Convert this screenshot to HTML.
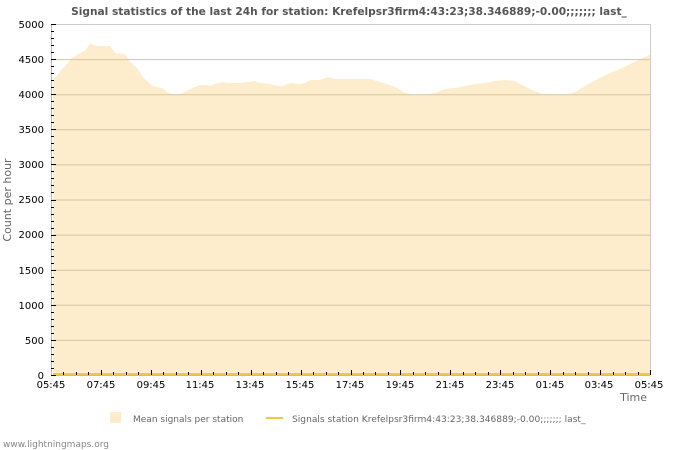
<!DOCTYPE html>
<html><head><meta charset="utf-8"><style>
html,body{margin:0;padding:0;background:#fff;}
svg{display:block;font-family:"DejaVu Sans","Liberation Sans",sans-serif;}
</style></head><body>
<svg width="700" height="450" viewBox="0 0 700 450" xmlns="http://www.w3.org/2000/svg">
<rect width="700" height="450" fill="#fff"/>
<text x="349" y="15" text-anchor="middle" font-size="10.6" font-weight="bold" fill="#555">Signal statistics of the last 24h for station: Krefelpsr3firm4:43:23;38.346889;-0.00;;;;;;; last_</text>
<g stroke="#cccccc" stroke-width="1">
<line x1="51" y1="24.5" x2="650" y2="24.5"/>
<line x1="650.5" y1="24" x2="650.5" y2="375"/>
</g>
<polygon fill="#fdedcc" points="53,375 53,80 58,74 65,66 72,58 80,53 86,50 90,43 94,45 98,46 110,46 115,53 125,54 130,62 137,68 143,77 150,84 155,87 162,88 167,92 172,94 180,94 185,92 190,89 195,87 200,85 205,85 210,86 215,84 222,82 228,83 240,83 255,81 260,83 270,84 278,86 282,86 290,83 300,84 305,83 310,80 320,80 328,77 335,79 370,79 380,82 390,85 397,88 405,93 415,95 425,95 435,93 445,89 455,88 465,86 475,84 485,83 495,81 505,80 515,81 520,84 528,88 535,91 542,94 555,94 565,95 573,93 580,89 590,83 600,78 610,73 620,69 630,64 640,59 650,55 650,375"/>
<g stroke="#d8c5a0" stroke-width="1">
<line x1="51" y1="59.6" x2="650" y2="59.6"/>
<line x1="51" y1="94.7" x2="650" y2="94.7"/>
<line x1="51" y1="129.8" x2="650" y2="129.8"/>
<line x1="51" y1="164.9" x2="650" y2="164.9"/>
<line x1="51" y1="200" x2="650" y2="200"/>
<line x1="51" y1="235.1" x2="650" y2="235.1"/>
<line x1="51" y1="270.2" x2="650" y2="270.2"/>
<line x1="51" y1="305.3" x2="650" y2="305.3"/>
<line x1="51" y1="340.4" x2="650" y2="340.4"/>
</g>
<line x1="53" y1="374" x2="650" y2="374" stroke="#f5c842" stroke-width="2"/>
<g stroke="#bbbbbb" stroke-width="1">
<line x1="51.5" y1="24" x2="51.5" y2="375"/>
<line x1="51" y1="375.5" x2="650" y2="375.5"/>
</g>
<g id="yt" stroke="#000" stroke-width="1"></g>
<g id="xt" stroke="#000" stroke-width="1"></g>
<g font-size="10" fill="#000" text-anchor="end">
<text x="44" y="28">5000</text><text x="44" y="63">4500</text><text x="44" y="98">4000</text><text x="44" y="133">3500</text><text x="44" y="168">3000</text><text x="44" y="203">2500</text><text x="44" y="238">2000</text><text x="44" y="274">1500</text><text x="44" y="309">1000</text><text x="44" y="344">500</text><text x="44" y="379">0</text>
</g>
<g font-size="10" fill="#000" text-anchor="middle">
<text x="51" y="388">05:45</text><text x="101" y="388">07:45</text><text x="151" y="388">09:45</text><text x="200" y="388">11:45</text><text x="250" y="388">13:45</text><text x="300" y="388">15:45</text><text x="350" y="388">17:45</text><text x="400" y="388">19:45</text><text x="450" y="388">21:45</text><text x="500" y="388">23:45</text><text x="550" y="388">01:45</text><text x="599" y="388">03:45</text><text x="649" y="388">05:45</text>
</g>
<text x="647" y="401" font-size="11" fill="#666" text-anchor="end">Time</text>
<text transform="translate(11,200) rotate(-90)" font-size="11" fill="#666" text-anchor="middle">Count per hour</text>
<rect x="110" y="412" width="11" height="11" fill="#fdedcc"/>
<text x="133" y="422" font-size="9" fill="#666">Mean signals per station</text>
<line x1="266" y1="418" x2="283" y2="418" stroke="#f5c842" stroke-width="2"/>
<text x="292" y="422" font-size="9.1" fill="#666">Signals station Krefelpsr3firm4:43:23;38.346889;-0.00;;;;;;; last_</text>
<text x="3" y="447" font-size="9" fill="#888">www.lightningmaps.org</text>
<script>
var ns="http://www.w3.org/2000/svg";
var yt=document.getElementById("yt");
for(var i=0;i<=50;i++){var y=Math.round(24+i*7.02)+0.5;var l=document.createElementNS(ns,"line");l.setAttribute("x1",51);l.setAttribute("x2",i%5==0?56:54);l.setAttribute("y1",y);l.setAttribute("y2",y);yt.appendChild(l);}
var xt=document.getElementById("xt");
for(var j=1;j<=48;j++){var x=Math.round(51+j*12.48)+0.5;var m=document.createElementNS(ns,"line");m.setAttribute("x1",x);m.setAttribute("x2",x);m.setAttribute("y1",375);m.setAttribute("y2",j%4==0?370:372);xt.appendChild(m);}
</script>
</svg>
</body></html>
